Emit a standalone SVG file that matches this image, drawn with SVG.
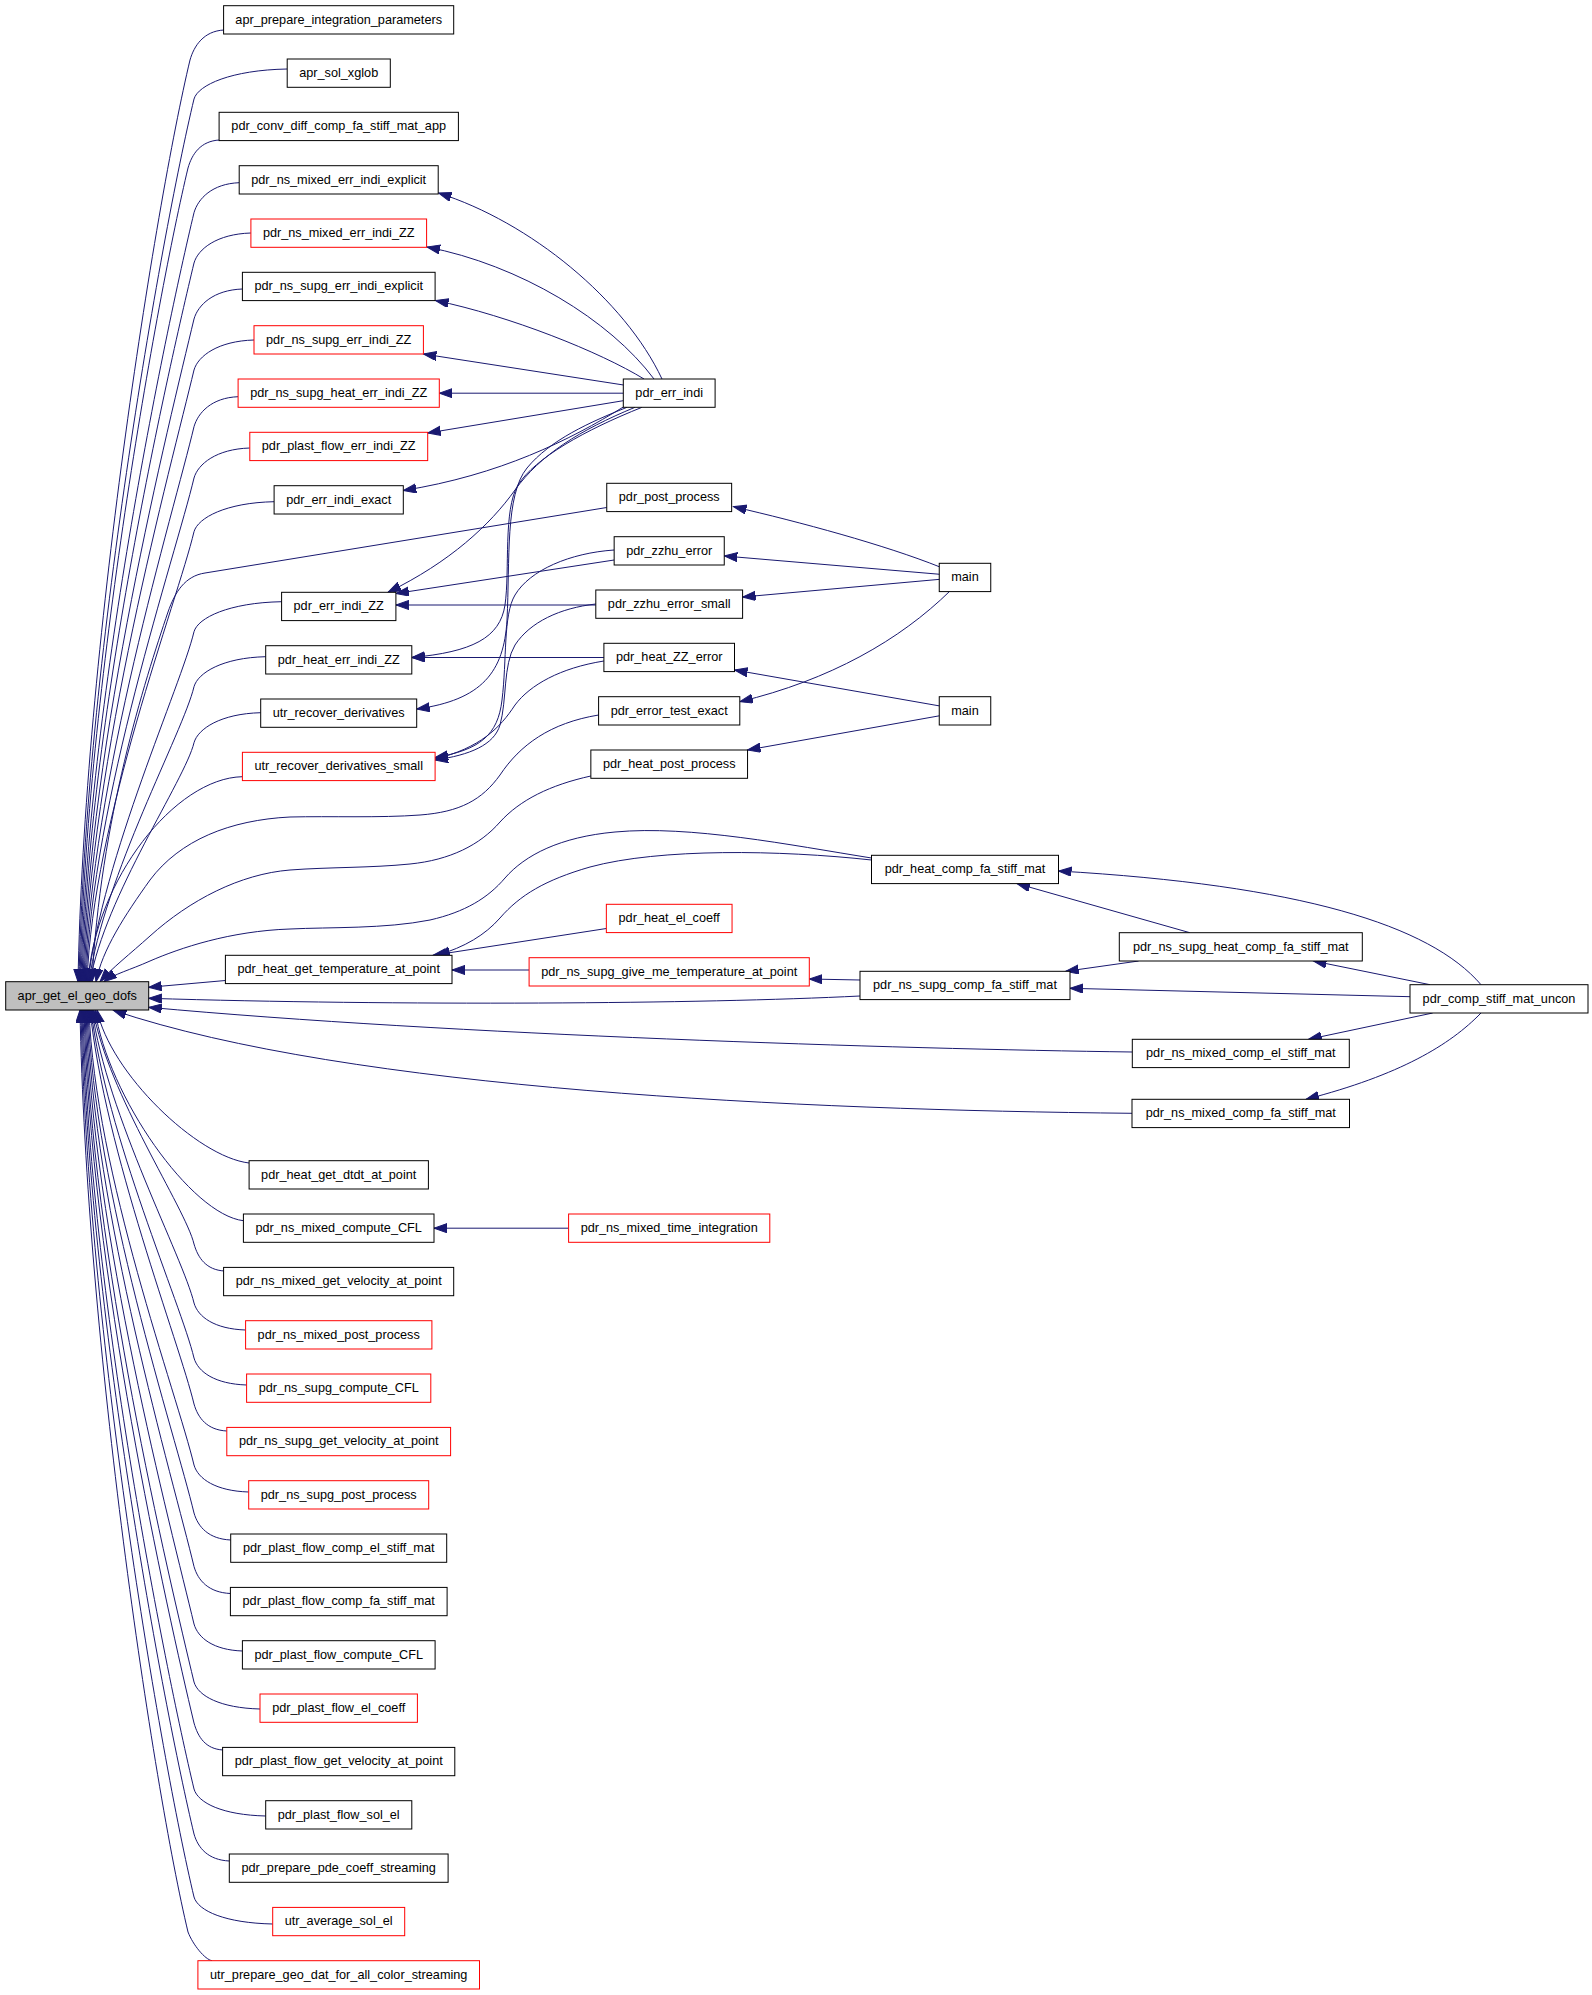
<svg xmlns="http://www.w3.org/2000/svg" width="1592" height="1995" viewBox="0 0 1592 1995">
<defs>
<style>
.n rect{fill:#ffffff;stroke:#000000;stroke-width:1}
.r rect{stroke:#ff0000}
.g rect{fill:#bfbfbf}
text{font-family:"Liberation Sans",Arial,Helvetica,sans-serif;font-size:12.7px;fill:#000000;text-anchor:middle}
.e path{fill:none;stroke:#191970;stroke-width:1;marker-end:url(#a)}
</style>
<marker id="a" markerUnits="userSpaceOnUse" markerWidth="15" markerHeight="11" refX="13" refY="4.6" orient="auto"><path d="M0,0L13,4.6L0,9.2Z" fill="#191970" stroke="#191970" stroke-width="1"/></marker>
</defs>
<rect width="1592" height="1995" fill="#ffffff"/>
<g id="edges" class="e">
<path d="M224,30 C203.6,31 194,46 190,60 C155.9,202.9 84,649.9 78,981.7"/>
<path d="M287.2,69 C231.3,70 198,85 194,99 C161.3,235.8 85,663.9 79,981.7"/>
<path d="M219.5,140 C200.6,141 192,154 188,168 C157.9,294.1 86,688.8 80,981.7"/>
<path d="M239.2,182.7 C212.1,183.7 198,198.7 194,212.7 C165.5,331.9 87,704.9 81,981.7"/>
<path d="M250.9,233 C216.8,234 198,249 194,263 C167.4,374.4 88,723 82,981.7"/>
<path d="M242.4,289 C213.4,290 198,305 194,319 C169.5,421.7 89,743.1 83,981.7"/>
<path d="M254,340 C218,341 198,356 194,370 C171.4,464.8 90,761.5 84,981.7"/>
<path d="M238.1,396.7 C211.6,397.7 198,412.7 194,426.7 C173.5,512.7 91,781.9 85,981.7"/>
<path d="M249.8,448 C216.3,449 198,464 194,478 C175.4,556.1 92,800.4 86,981.7"/>
<path d="M274.1,501.7 C226,502.7 198,517.7 194,531.7 C177.4,601.5 93,819.7 87,981.7"/>
<path d="M281.6,601.7 C229,602.7 198,617.7 194,631.7 C181,686 103,855.7 88,981.7"/>
<path d="M265.7,656.7 C222.7,657.7 198,672.7 194,686.7 C183.1,732.4 104,875.5 89,981.7"/>
<path d="M260.7,712.7 C220.7,713.7 198,728.7 194,742.7 C185.2,779.7 105,895.7 90,981.7"/>
<path d="M242.4,776.7 C175,778 95,880 88,981.7"/>
<path d="M606.75,507.5 L205,573 C185,576 175,592 168,612 C145,680 100,820 92,981.7"/>
<path d="M598.6,715 C550,723 520,745 500,775 C482,800 460,812 420,815 C380,818 330,816 290,817 C230,820 180,840 150,880 C125,915 102,950 96,981.7"/>
<path d="M590.85,776 C550,785 520,800 500,822 C480,845 450,860 410,864 C370,868 330,867 290,870 C240,874 190,900 150,936 C130,954 112,968 100,981.7"/>
<path d="M871.5,858 C790,845 690,825 615,832 C560,837 525,855 505,878 C488,898 465,912 430,920 C385,929 330,927 290,929 C230,931 180,948 150,961 C130,970 114,974 104,981.7"/>
<path d="M871.5,860 C780,850 660,848 590,867 C545,880 520,895 500,918 C485,935 465,947 437,955.3"/>
<path d="M606.35,928.5 L433,955.3"/>
<path d="M529.1,970 L452,970"/>
<path d="M225.4,980.5 L148.7,987.3"/>
<path d="M860,996 C700,1004 400,1006 148.7,998.3"/>
<path d="M1132.3,1052 C900,1049 450,1035 148.7,1007.3"/>
<path d="M1132,1113.3 C800,1110 350,1090 113.3,1010.3"/>
<path d="M249.1,1163 C197.1,1157 110,1072.7 97,1010"/>
<path d="M243.4,1220.7 C191.4,1214.7 108,1096.4 95,1010"/>
<path d="M224.5,1271 C206.2,1270 198,1258 194,1244 C185.3,1207.7 108,1094.2 93,1010"/>
<path d="M245.6,1330 C214.6,1329 198,1317 194,1303 C183.2,1257.6 107,1115.5 92,1010"/>
<path d="M246.6,1385 C215,1384 198,1372 194,1358 C181.1,1304.1 106,1135.3 91,1010"/>
<path d="M226.8,1431 C207.1,1430 198,1418 194,1404 C179.4,1342.9 105,1151.8 90,1010"/>
<path d="M248.7,1492 C215.9,1491 198,1479 194,1465 C177.2,1394.5 95,1173.8 89,1010"/>
<path d="M230.7,1540 C208.7,1539 198,1527 194,1513 C175.4,1435 94,1191.1 88,1010"/>
<path d="M230.4,1593.5 C208.6,1592.5 198,1580.5 194,1566.5 C173.4,1480.2 93,1210.3 87,1010"/>
<path d="M242.4,1651 C213.4,1650 198,1638 194,1624 C171.3,1528.8 92,1231 86,1010"/>
<path d="M260,1709 C220.4,1708 198,1696 194,1682 C169.1,1577.8 91,1251.9 85,1010"/>
<path d="M223,1750 C205.4,1749 198,1737 194,1723 C167.6,1612.5 90,1266.7 84,1010"/>
<path d="M265.7,1816 C222.7,1815 198,1803 194,1789 C165.2,1668.3 89,1290.4 83,1010"/>
<path d="M229.3,1861 C208.1,1860 198,1848 194,1834 C163.5,1706.3 88,1306.6 82,1010"/>
<path d="M272.7,1924 C225.5,1923 198,1911 194,1897 C161.2,1759.5 87,1329.3 81,1010"/>
<path d="M212,1960.7 C205,1959.5 193,1945 188,1932 C153.9,1789.1 86,1341.9 80,1010"/>
<path d="M662,379 C625,300 530,222 438.5,193"/>
<path d="M654,379 C610,320 520,265 427,247"/>
<path d="M644,379 C600,352 510,316 435.5,300.5"/>
<path d="M628,385.7 L423.4,354"/>
<path d="M623.3,393.2 L439.3,393.2"/>
<path d="M623.3,400.7 L427.7,433"/>
<path d="M623.3,407 C570,440 500,475 403.3,490.5"/>
<path d="M635,407.3 C580,430 540,455 515,490 C490,525 450,562 388,592.3"/>
<path d="M642,407.3 C585,430 535,458 518,485 C503,510 510,570 505,605 C500,638 472,652 411.8,657.5"/>
<path d="M627,407.3 C590,422 550,440 527,468 C505,495 510,560 507,620 C504,672 482,700 416.7,709"/>
<path d="M614.15,560 L395.9,593.5"/>
<path d="M595.8,605 L395.9,605"/>
<path d="M603.9,657.5 L411.8,657.5"/>
<path d="M614.15,550 C570,553 530,570 515,595 C503,615 507,660 502,700 C498,735 480,750 435.1,757.5"/>
<path d="M595.8,604 C560,608 530,622 515,645 C503,665 507,700 500,725 C494,745 470,755 435.1,760"/>
<path d="M603.9,661 C560,668 530,685 515,705 C500,728 480,748 435.1,759"/>
<path d="M940,567 C885,545 800,522 733.5,506.7"/>
<path d="M940,574.3 L724.3,556"/>
<path d="M940,579.3 L742.6,597"/>
<path d="M950,591 C900,640 830,680 739.8,701.7"/>
<path d="M940,706 L734.5,670"/>
<path d="M940,715.7 L747.5,750"/>
<path d="M860,980 L809.3,979"/>
<path d="M1189.8,932.7 L1017,883.6"/>
<path d="M1138.6,961 L1065.7,971.3"/>
<path d="M1481,984.7 C1430,925 1300,885 1058.5,871"/>
<path d="M1430,984.7 L1313.5,961"/>
<path d="M1410,996.7 L1070,988.3"/>
<path d="M1432.7,1013 L1308.6,1039.3"/>
<path d="M1481,1013 C1450,1045 1400,1075 1306,1099.3"/>
<path d="M568.6,1228.2 L434,1228.2"/>
</g>
<g id="node-apr_get_el_geo_dofs" class="n g"><rect x="5.7" y="981.7" width="143" height="28.3"/><text x="77.2" y="999.7">apr_get_el_geo_dofs</text></g>
<g id="node-apr_prepare_integration_parameters" class="n"><rect x="223.6" y="5.7" width="230.1" height="28.3"/><text x="338.7" y="23.7">apr_prepare_integration_parameters</text></g>
<g id="node-apr_sol_xglob" class="n"><rect x="287.2" y="59" width="103.1" height="28.3"/><text x="338.7" y="77">apr_sol_xglob</text></g>
<g id="node-pdr_conv_diff_comp_fa_stiff_mat_app" class="n"><rect x="219.1" y="112.3" width="239.3" height="28.3"/><text x="338.7" y="130.3">pdr_conv_diff_comp_fa_stiff_mat_app</text></g>
<g id="node-pdr_ns_mixed_err_indi_explicit" class="n"><rect x="239.2" y="165.7" width="199" height="28.3"/><text x="338.7" y="183.7">pdr_ns_mixed_err_indi_explicit</text></g>
<g id="node-pdr_ns_mixed_err_indi_ZZ" class="n r"><rect x="250.9" y="219" width="175.7" height="28.3"/><text x="338.7" y="237">pdr_ns_mixed_err_indi_ZZ</text></g>
<g id="node-pdr_ns_supg_err_indi_explicit" class="n"><rect x="242.4" y="272.3" width="192.7" height="28.3"/><text x="338.7" y="290.3">pdr_ns_supg_err_indi_explicit</text></g>
<g id="node-pdr_ns_supg_err_indi_ZZ" class="n r"><rect x="254" y="325.7" width="169.4" height="28.3"/><text x="338.7" y="343.7">pdr_ns_supg_err_indi_ZZ</text></g>
<g id="node-pdr_ns_supg_heat_err_indi_ZZ" class="n r"><rect x="238.1" y="379" width="201.2" height="28.3"/><text x="338.7" y="397">pdr_ns_supg_heat_err_indi_ZZ</text></g>
<g id="node-pdr_plast_flow_err_indi_ZZ" class="n r"><rect x="249.8" y="432.3" width="177.9" height="28.3"/><text x="338.7" y="450.3">pdr_plast_flow_err_indi_ZZ</text></g>
<g id="node-pdr_err_indi_exact" class="n"><rect x="274.1" y="485.7" width="129.2" height="28.3"/><text x="338.7" y="503.7">pdr_err_indi_exact</text></g>
<g id="node-pdr_err_indi_ZZ" class="n"><rect x="281.6" y="592.3" width="114.3" height="28.3"/><text x="338.7" y="610.3">pdr_err_indi_ZZ</text></g>
<g id="node-pdr_heat_err_indi_ZZ" class="n"><rect x="265.7" y="645.7" width="146.1" height="28.3"/><text x="338.7" y="663.7">pdr_heat_err_indi_ZZ</text></g>
<g id="node-utr_recover_derivatives" class="n"><rect x="260.7" y="699" width="156" height="28.3"/><text x="338.7" y="717">utr_recover_derivatives</text></g>
<g id="node-utr_recover_derivatives_small" class="n r"><rect x="242.4" y="752.3" width="192.7" height="28.3"/><text x="338.7" y="770.3">utr_recover_derivatives_small</text></g>
<g id="node-pdr_heat_get_temperature_at_point" class="n"><rect x="225.4" y="955.3" width="226.6" height="28.3"/><text x="338.7" y="973.3">pdr_heat_get_temperature_at_point</text></g>
<g id="node-pdr_heat_get_dtdt_at_point" class="n"><rect x="249.1" y="1160.7" width="179.3" height="28.3"/><text x="338.7" y="1178.7">pdr_heat_get_dtdt_at_point</text></g>
<g id="node-pdr_ns_mixed_compute_CFL" class="n"><rect x="243.4" y="1214" width="190.6" height="28.3"/><text x="338.7" y="1232">pdr_ns_mixed_compute_CFL</text></g>
<g id="node-pdr_ns_mixed_get_velocity_at_point" class="n"><rect x="223.6" y="1267.4" width="230.1" height="28.3"/><text x="338.7" y="1285.4">pdr_ns_mixed_get_velocity_at_point</text></g>
<g id="node-pdr_ns_mixed_post_process" class="n r"><rect x="245.6" y="1320.7" width="186.3" height="28.3"/><text x="338.7" y="1338.7">pdr_ns_mixed_post_process</text></g>
<g id="node-pdr_ns_supg_compute_CFL" class="n r"><rect x="246.6" y="1374" width="184.2" height="28.3"/><text x="338.7" y="1392">pdr_ns_supg_compute_CFL</text></g>
<g id="node-pdr_ns_supg_get_velocity_at_point" class="n r"><rect x="226.8" y="1427.4" width="223.8" height="28.3"/><text x="338.7" y="1445.4">pdr_ns_supg_get_velocity_at_point</text></g>
<g id="node-pdr_ns_supg_post_process" class="n r"><rect x="248.7" y="1480.7" width="180" height="28.3"/><text x="338.7" y="1498.7">pdr_ns_supg_post_process</text></g>
<g id="node-pdr_plast_flow_comp_el_stiff_mat" class="n"><rect x="230.7" y="1534" width="216" height="28.3"/><text x="338.7" y="1552">pdr_plast_flow_comp_el_stiff_mat</text></g>
<g id="node-pdr_plast_flow_comp_fa_stiff_mat" class="n"><rect x="230.4" y="1587.4" width="216.7" height="28.3"/><text x="338.7" y="1605.4">pdr_plast_flow_comp_fa_stiff_mat</text></g>
<g id="node-pdr_plast_flow_compute_CFL" class="n"><rect x="242.4" y="1640.7" width="192.7" height="28.3"/><text x="338.7" y="1658.7">pdr_plast_flow_compute_CFL</text></g>
<g id="node-pdr_plast_flow_el_coeff" class="n r"><rect x="260" y="1694" width="157.4" height="28.3"/><text x="338.7" y="1712">pdr_plast_flow_el_coeff</text></g>
<g id="node-pdr_plast_flow_get_velocity_at_point" class="n"><rect x="222.6" y="1747.4" width="232.2" height="28.3"/><text x="338.7" y="1765.4">pdr_plast_flow_get_velocity_at_point</text></g>
<g id="node-pdr_plast_flow_sol_el" class="n"><rect x="265.7" y="1800.7" width="146.1" height="28.3"/><text x="338.7" y="1818.7">pdr_plast_flow_sol_el</text></g>
<g id="node-pdr_prepare_pde_coeff_streaming" class="n"><rect x="229.3" y="1854" width="218.8" height="28.3"/><text x="338.7" y="1872">pdr_prepare_pde_coeff_streaming</text></g>
<g id="node-utr_average_sol_el" class="n r"><rect x="272.7" y="1907.4" width="132" height="28.3"/><text x="338.7" y="1925.4">utr_average_sol_el</text></g>
<g id="node-utr_prepare_geo_dat_for_all_color_streaming" class="n r"><rect x="197.9" y="1960.7" width="281.6" height="28.3"/><text x="338.7" y="1978.7">utr_prepare_geo_dat_for_all_color_streaming</text></g>
<g id="node-pdr_err_indi" class="n"><rect x="623.3" y="379" width="91.8" height="28.3"/><text x="669.2" y="397">pdr_err_indi</text></g>
<g id="node-pdr_post_process" class="n"><rect x="606.75" y="483.3" width="124.9" height="28.3"/><text x="669.2" y="501.3">pdr_post_process</text></g>
<g id="node-pdr_zzhu_error" class="n"><rect x="614.15" y="536.7" width="110.1" height="28.3"/><text x="669.2" y="554.7">pdr_zzhu_error</text></g>
<g id="node-pdr_zzhu_error_small" class="n"><rect x="595.8" y="590" width="146.8" height="28.3"/><text x="669.2" y="608">pdr_zzhu_error_small</text></g>
<g id="node-pdr_heat_ZZ_error" class="n"><rect x="603.9" y="643.3" width="130.6" height="28.3"/><text x="669.2" y="661.3">pdr_heat_ZZ_error</text></g>
<g id="node-pdr_error_test_exact" class="n"><rect x="598.6" y="696.7" width="141.2" height="28.3"/><text x="669.2" y="714.7">pdr_error_test_exact</text></g>
<g id="node-pdr_heat_post_process" class="n"><rect x="590.85" y="750" width="156.7" height="28.3"/><text x="669.2" y="768">pdr_heat_post_process</text></g>
<g id="node-pdr_heat_el_coeff" class="n r"><rect x="606.35" y="904.3" width="125.7" height="28.3"/><text x="669.2" y="922.3">pdr_heat_el_coeff</text></g>
<g id="node-pdr_ns_supg_give_me_temperature_at_point" class="n r"><rect x="529.1" y="957.7" width="280.2" height="28.3"/><text x="669.2" y="975.7">pdr_ns_supg_give_me_temperature_at_point</text></g>
<g id="node-pdr_ns_mixed_time_integration" class="n r"><rect x="568.6" y="1214" width="201.2" height="28.3"/><text x="669.2" y="1232">pdr_ns_mixed_time_integration</text></g>
<g id="node-main_1" class="n"><rect x="939.25" y="563.3" width="51.5" height="28.3"/><text x="965" y="581.3">main</text></g>
<g id="node-main_2" class="n"><rect x="939.25" y="696.7" width="51.5" height="28.3"/><text x="965" y="714.7">main</text></g>
<g id="node-pdr_heat_comp_fa_stiff_mat" class="n"><rect x="871.5" y="855.3" width="187" height="28.3"/><text x="965" y="873.3">pdr_heat_comp_fa_stiff_mat</text></g>
<g id="node-pdr_ns_supg_comp_fa_stiff_mat" class="n"><rect x="860" y="971.3" width="210" height="28.3"/><text x="965" y="989.3">pdr_ns_supg_comp_fa_stiff_mat</text></g>
<g id="node-pdr_ns_supg_heat_comp_fa_stiff_mat" class="n"><rect x="1119.3" y="932.7" width="243" height="28.3"/><text x="1240.8" y="950.7">pdr_ns_supg_heat_comp_fa_stiff_mat</text></g>
<g id="node-pdr_ns_mixed_comp_el_stiff_mat" class="n"><rect x="1132.3" y="1039.3" width="217" height="28.3"/><text x="1240.8" y="1057.3">pdr_ns_mixed_comp_el_stiff_mat</text></g>
<g id="node-pdr_ns_mixed_comp_fa_stiff_mat" class="n"><rect x="1132" y="1099.3" width="217.5" height="28.3"/><text x="1240.8" y="1117.3">pdr_ns_mixed_comp_fa_stiff_mat</text></g>
<g id="node-pdr_comp_stiff_mat_uncon" class="n"><rect x="1410" y="984.7" width="178" height="28.3"/><text x="1499" y="1002.7">pdr_comp_stiff_mat_uncon</text></g>
</svg>
